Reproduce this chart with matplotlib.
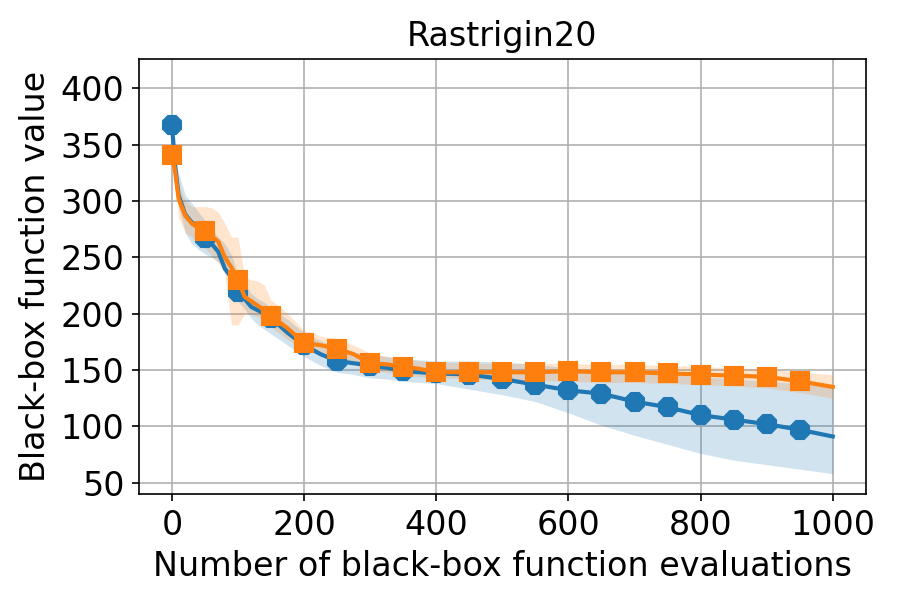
import matplotlib

matplotlib.use("Agg")
import matplotlib.pyplot as plt
import numpy as np

evals = [0, 5, 10, 20, 30, 40, 50, 60, 70, 80, 90, 100, 110, 120, 130, 140, 150,
         175, 200, 225, 250, 275, 300, 325, 350, 375, 400, 450, 500, 550, 600,
         650, 700, 750, 800, 850, 900, 950, 1000]

blue_mean = [367, 330, 305, 288, 281, 276, 267, 262, 255, 240, 232, 219, 213, 206,
             203, 200, 196, 183, 172, 164, 158, 156, 154, 152, 149, 148, 147, 146,
             142, 137, 132, 129, 122, 117, 110, 106, 102, 97, 91]
blue_low = [367, 318, 295, 272, 262, 257, 253, 250, 246, 240, 232, 211, 204, 196,
            190, 186, 182, 172, 162, 154, 148, 146, 143, 142, 140, 139, 138, 133,
            128, 122, 112, 101, 92, 84, 76, 70, 66, 62, 58]
blue_high = [367, 335, 325, 305, 298, 290, 283, 275, 268, 262, 252, 235, 226, 218,
             213, 210, 205, 195, 183, 176, 170, 166, 164, 162, 160, 159, 158, 158,
             157, 155, 152, 150, 148, 146, 144, 142, 140, 138, 135]

orange_mean = [341, 325, 302, 287, 280, 276, 273, 269, 264, 250, 241, 230, 215, 211,
               207, 203, 198, 187, 174, 172, 169, 164, 156, 155, 153, 151, 148, 148,
               148, 148, 149, 148, 148, 147, 146, 145, 144, 140, 135]
orange_low = [341, 318, 285, 272, 268, 263, 258, 252, 245, 235, 190, 190, 200, 200,
              197, 193, 188, 177, 168, 165, 160, 155, 150, 148, 146, 144, 143, 142,
              141, 141, 140, 139, 139, 138, 137, 136, 134, 130, 125]
orange_high = [341, 335, 315, 300, 295, 295, 295, 294, 290, 280, 268, 268, 232, 230,
               229, 225, 212, 200, 185, 180, 178, 172, 165, 162, 160, 158, 157, 156,
               156, 156, 156, 155, 155, 154, 153, 152, 151, 148, 146]

BLUE = "#1f77b4"
ORANGE = "#ff7f0e"

plt.rcParams["font.size"] = 16

x = np.array(evals)
marker_idx = [i for i, v in enumerate(evals) if v % 50 == 0 and v < 1000]

fig, ax = plt.subplots(figsize=(6, 4), dpi=150)
fig.subplots_adjust(left=0.1544, right=0.962, bottom=0.1767, top=0.9017)

ax.fill_between(x, blue_low, blue_high, color=BLUE, alpha=0.2, linewidth=0)
ax.plot(x, blue_mean, color=BLUE, lw=2, marker="8", markersize=9,
        markevery=marker_idx)
ax.fill_between(x, orange_low, orange_high, color=ORANGE, alpha=0.2, linewidth=0)
ax.plot(x, orange_mean, color=ORANGE, lw=2, marker="s", markersize=9,
        markevery=marker_idx)

ax.set_xlim(-50, 1050)
ax.set_ylim(40, 426)
ax.set_xticks([0, 200, 400, 600, 800, 1000])
ax.set_yticks([50, 100, 150, 200, 250, 300, 350, 400])
ax.grid(True, color="#b0b0b0", lw=0.8)
ax.set_axisbelow(True)
ax.set_title("Rastrigin20", fontsize=16)
ax.set_xlabel("Number of black-box function evaluations")
ax.set_ylabel("Black-box function value")

fig.savefig("out.png", dpi=150)
